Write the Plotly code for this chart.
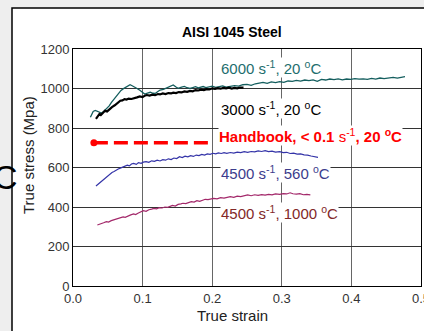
import plotly.graph_objects as go

# ---------------- data ----------------
teal_strain = [0.025,0.027,0.029,0.032,0.034,0.037,0.041,0.044,0.048,0.052,0.055,0.058,0.062,0.066,0.069,0.072,0.076,0.079,0.082,0.085,0.089,0.092,0.096,0.100,0.103,0.107,0.111,0.115,0.118,0.122,0.125,0.130,0.135,0.140,0.144,0.148,0.151,0.156,0.160,0.164,0.168,0.172,0.176,0.180,0.184,0.187,0.191,0.195,0.200,0.205,0.210,0.215,0.220,0.226,0.232,0.238,0.244,0.250,0.256,0.262,0.268,0.273,0.279,0.285,0.291,0.297,0.303,0.309,0.315,0.321,0.327,0.333,0.339,0.345,0.351,0.357,0.363,0.369,0.375,0.381,0.387,0.393,0.399,0.405,0.411,0.417,0.423,0.429,0.435,0.441,0.447,0.453,0.460,0.466,0.472,0.477]
teal_stress = [854,868,884,889,887,882,876,884,898,912,928,942,958,975,990,998,1008,1015,1019,1014,1008,1000,991,980,972,977,981,976,975,985,992,996,1004,1010,1018,1008,1001,1007,1011,1004,1001,1005,1009,1003,1007,1010,1005,1008,1012,1006,1010,1013,1007,1010,1015,1012,1019,1021,1016,1024,1028,1031,1026,1033,1030,1035,1031,1038,1036,1041,1037,1043,1040,1044,1036,1046,1043,1048,1045,1049,1044,1048,1046,1050,1047,1049,1046,1051,1048,1053,1050,1054,1056,1053,1058,1060]

black_strain = [0.033,0.035,0.038,0.040,0.043,0.046,0.049,0.053,0.056,0.060,0.063,0.066,0.068,0.071,0.074,0.077,0.080,0.084,0.088,0.092,0.096,0.100,0.104,0.106,0.110,0.114,0.118,0.122,0.125,0.129,0.133,0.137,0.141,0.144,0.148,0.152,0.156,0.160,0.164,0.168,0.172,0.176,0.180,0.184,0.188,0.192,0.196,0.200,0.204,0.208,0.212,0.216,0.220,0.224,0.228,0.232,0.236,0.240,0.245]
black_stress = [846,858,871,866,879,887,884,899,906,915,925,933,938,940,946,944,949,947,953,955,960,957,965,967,964,969,966,972,970,975,972,977,975,979,977,982,980,985,983,988,986,992,990,994,992,997,995,1001,998,1002,999,1003,1001,1004,1000,1003,1001,1005,1004]

blue_strain = [0.033,0.035,0.037,0.039,0.042,0.044,0.046,0.049,0.051,0.053,0.056,0.059,0.062,0.065,0.068,0.071,0.074,0.078,0.081,0.084,0.087,0.091,0.094,0.098,0.101,0.105,0.109,0.113,0.117,0.121,0.125,0.129,0.133,0.137,0.141,0.145,0.149,0.153,0.157,0.161,0.165,0.169,0.173,0.177,0.181,0.185,0.189,0.193,0.197,0.201,0.205,0.209,0.213,0.217,0.221,0.226,0.231,0.236,0.241,0.246,0.251,0.256,0.261,0.266,0.271,0.276,0.281,0.286,0.291,0.297,0.302,0.307,0.312,0.317,0.322,0.327,0.332,0.337,0.342,0.347,0.352]
blue_stress = [506,512,520,525,534,540,547,556,563,570,575,580,588,592,597,601,606,612,608,618,621,616,625,621,627,630,626,634,631,637,633,640,637,644,640,648,645,655,650,657,654,660,656,663,660,666,663,669,667,672,669,674,671,675,672,676,673,678,675,680,677,681,679,684,681,685,680,683,678,680,675,677,671,673,668,669,664,663,658,656,651]

mag_strain = [0.035,0.038,0.041,0.044,0.048,0.051,0.055,0.058,0.062,0.065,0.068,0.072,0.075,0.079,0.083,0.087,0.090,0.094,0.098,0.101,0.105,0.109,0.113,0.116,0.120,0.124,0.128,0.132,0.136,0.139,0.143,0.147,0.151,0.155,0.158,0.162,0.166,0.170,0.174,0.178,0.182,0.186,0.190,0.194,0.198,0.202,0.207,0.212,0.217,0.222,0.226,0.231,0.236,0.241,0.246,0.251,0.256,0.261,0.266,0.271,0.276,0.281,0.286,0.291,0.297,0.302,0.307,0.312,0.316,0.321,0.326,0.331,0.336,0.341]
mag_stress = [309,312,316,320,326,324,331,334,338,341,343,350,348,356,360,365,362,370,376,381,378,386,389,393,391,397,395,400,398,402,408,405,413,416,419,417,423,427,425,432,429,436,439,437,442,444,441,447,445,450,452,449,455,453,458,461,457,462,459,463,460,464,461,466,464,468,466,472,467,465,468,462,464,461]

handbook_strain = [0.03, 0.198]
handbook_stress = [725, 725]

x_ticks = [0.0, 0.1, 0.2, 0.3, 0.4, 0.5]
y_ticks = [0, 200, 400, 600, 800, 1000, 1200]

FONT = "Arial, Liberation Sans, sans-serif"

fig = go.Figure()
fig.add_trace(go.Scatter(x=handbook_strain, y=handbook_stress, mode="lines",
                         line=dict(color="#ff0000", width=3.5, dash="14px,6px"), hoverinfo="skip"))
fig.add_trace(go.Scatter(x=handbook_strain[:1], y=handbook_stress[:1], mode="markers",
                         marker=dict(color="#ff0000", size=7), hoverinfo="skip"))
fig.add_trace(go.Scatter(x=mag_strain, y=mag_stress, mode="lines",
                         line=dict(color="#a3286a", width=1.2)))
fig.add_trace(go.Scatter(x=blue_strain, y=blue_stress, mode="lines",
                         line=dict(color="#3434a8", width=1.2)))
fig.add_trace(go.Scatter(x=teal_strain, y=teal_stress, mode="lines",
                         line=dict(color="#145e5e", width=1.3)))
fig.add_trace(go.Scatter(x=black_strain, y=black_stress, mode="lines",
                         line=dict(color="#000000", width=2.2)))

ann_font = 15
annots = [
    dict(x=0.211, y=1104, text="6000 s<sup>-1</sup>, 20 <sup>o</sup>C", color="#1e6e6e"),
    dict(x=0.211, y=901, text="3000 s<sup>-1</sup>, 20 <sup>o</sup>C", color="#000000"),
    dict(x=0.209, y=764, text="<b>Handbook, &lt; 0.1 </b>s<sup>-1</sup><b>, 20 <sup>o</sup>C</b>", color="#ff0000"),
    dict(x=0.211, y=577, text="4500 s<sup>-1</sup>, 560 <sup>o</sup>C", color="#3c3c8c"),
    dict(x=0.211, y=370, text="4500 s<sup>-1</sup>, 1000 <sup>o</sup>C", color="#822828"),
]
for a in annots:
    fig.add_annotation(x=a["x"], y=a["y"], xref="x", yref="y", text=a["text"], showarrow=False,
                       xanchor="left", yanchor="middle", bgcolor="white", borderpad=0,
                       font=dict(family=FONT, size=ann_font, color=a["color"]))

def px2x(px):
    return (px - 73) / 348.0

def py2y(py):
    return (286 - py) / 237.0

fig.add_annotation(x=px2x(232), y=py2y(32), xref="paper", yref="paper", text="<b>AISI 1045 Steel</b>",
                   showarrow=False, xanchor="center", yanchor="middle",
                   font=dict(family=FONT, size=14, color="black"))
fig.add_annotation(x=px2x(28), y=py2y(155), xref="paper", yref="paper", text="True stress (Mpa)",
                   showarrow=False, textangle=-90, xanchor="center", yanchor="middle",
                   font=dict(family=FONT, size=15, color="#222"))
fig.add_annotation(x=px2x(232), y=py2y(315), xref="paper", yref="paper", text="True strain",
                   showarrow=False, xanchor="center", yanchor="middle",
                   font=dict(family=FONT, size=15, color="#222"))
fig.add_annotation(x=px2x(5), y=py2y(177), xref="paper", yref="paper", text="C",
                   showarrow=False, xanchor="center", yanchor="middle",
                   font=dict(family=FONT, size=34, color="black"))

fig.add_shape(type="rect", xref="paper", yref="paper", x0=px2x(12), x1=px2x(440), y0=py2y(345), y1=py2y(8),
              fillcolor="white", line=dict(color="black", width=1.5), layer="below")

fig.update_xaxes(range=[0, 0.5], tickvals=x_ticks, ticktext=[f"{v:.1f}" for v in x_ticks],
                 showgrid=True, gridcolor="#666", gridwidth=1.3, showline=True, linecolor="black",
                 linewidth=1, mirror=True, ticks="", zeroline=False, automargin=False,
                 ticklabeloverflow="allow",
                 tickfont=dict(family=FONT, size=13, color="#333"))
fig.update_yaxes(range=[0, 1200], tickvals=y_ticks, showgrid=True, gridcolor="#333", gridwidth=1,
                 showline=True, linecolor="black", linewidth=1, mirror=True, ticks="", zeroline=False,
                 automargin=False, tickfont=dict(family=FONT, size=13, color="#333"))

fig.update_layout(width=424, height=331, margin=dict(l=73, r=3, t=49, b=45, autoexpand=False),
                  paper_bgcolor="#eeeeee", plot_bgcolor="white", showlegend=False,
                  font=dict(family=FONT))

fig.write_html("out.html", config={"displayModeBar": False},
               post_script="document.body.style.margin='0px';document.body.style.padding='0px';document.body.style.overflow='hidden';")
